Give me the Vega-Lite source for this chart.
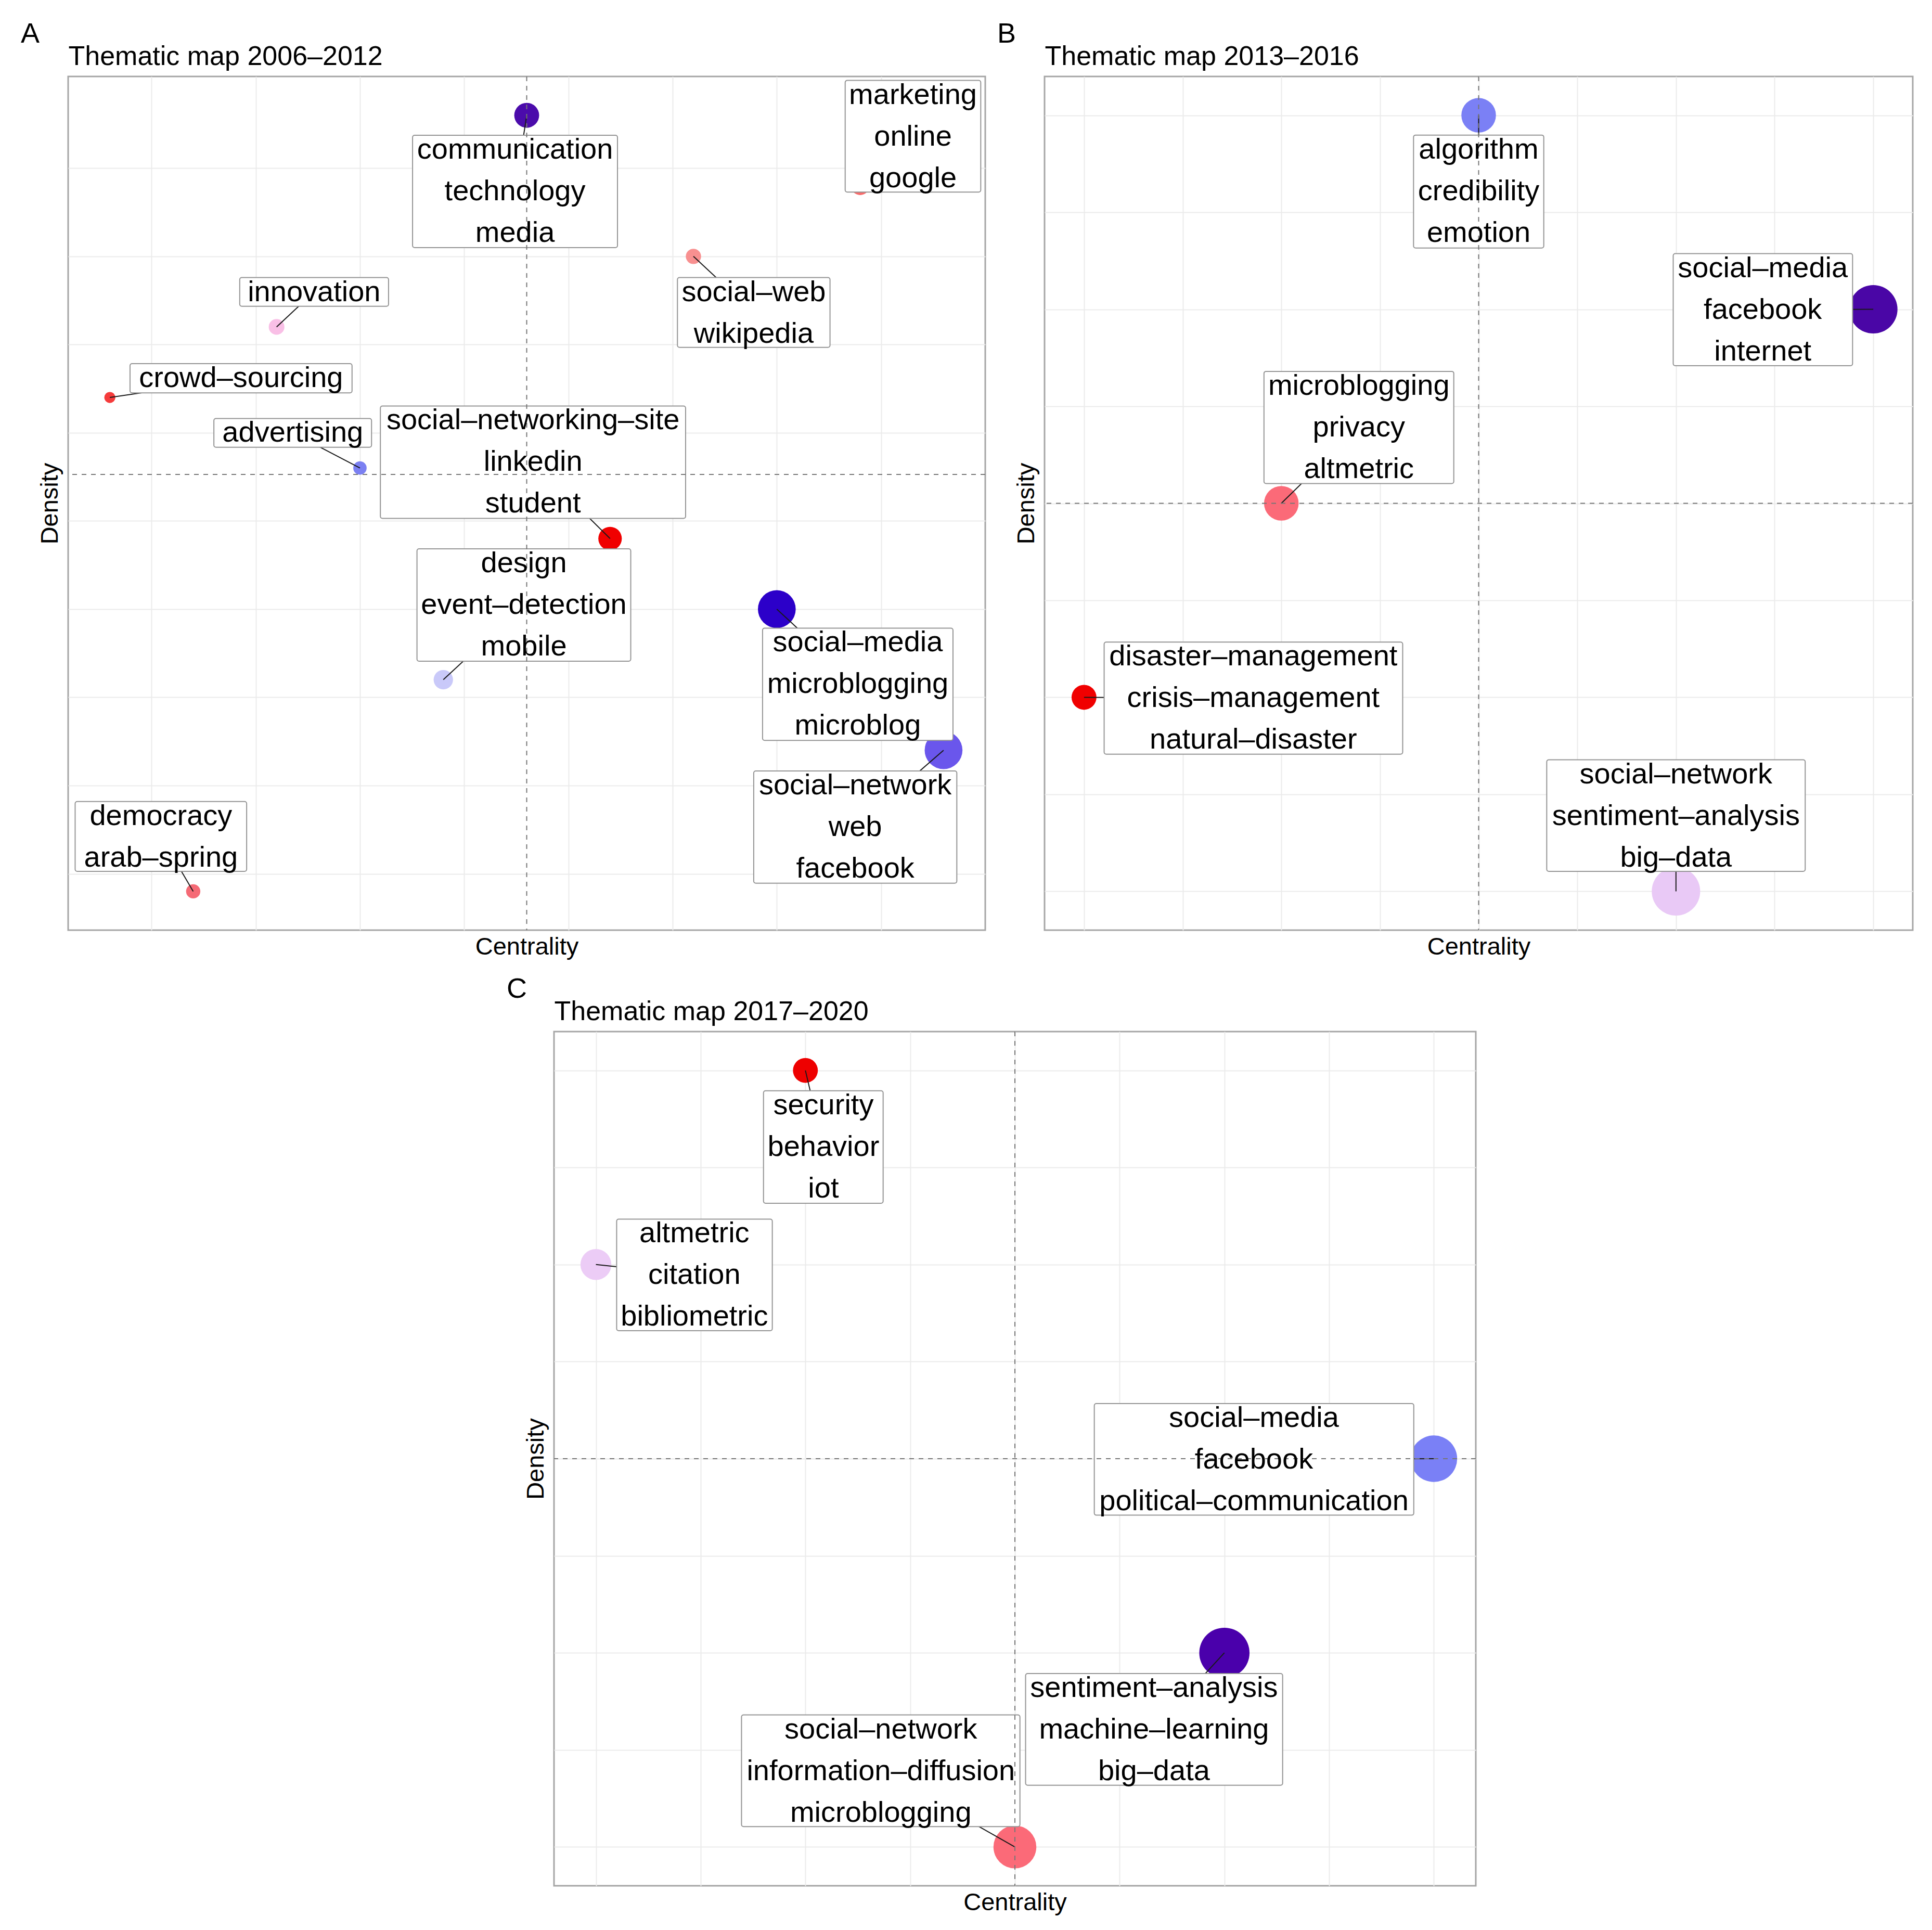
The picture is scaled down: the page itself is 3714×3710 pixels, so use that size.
{
  "$schema": "https://vega.github.io/schema/vega-lite/v6.json",
  "background": "white",
  "padding": {"left": 38, "top": 37, "right": 0, "bottom": 0},
  "config": {
    "font": "Liberation Sans",
    "view": {"stroke": "#a6a6a6", "strokeWidth": 3},
    "title": {"fontSize": 54, "fontWeight": "normal", "color": "black", "anchor": "start", "frame": "group", "dx": -91, "offset": -11, "baseline": "alphabetic", "font": "Liberation Sans"},
    "axis": {"labels": false, "ticks": false, "domain": false, "gridColor": "#ebebeb", "gridWidth": 2, "titleFontWeight": "normal", "titleColor": "black", "titleFont": "Liberation Sans"}
  },
  "spacing": 28,
  "resolve": {"scale": {"x": "independent", "y": "independent", "color": "independent", "size": "independent"}},
  "vconcat": [
    {
      "spacing": 18,
      "resolve": {"scale": {"x": "independent", "y": "independent", "color": "independent", "size": "independent"}},
      "hconcat": [
        {
          "width": 1763, "height": 1641,
          "title": {"text": "A"},
          "data": {"values": [
            {"id": "A1", "centrality": 6, "density": 12, "freq": 22.9, "label": "communication\ntechnology\nmedia", "lx": 5.86, "ly": 10.92, "bx1": 4.631, "bx2": 7.089, "by1": 10.125, "by2": 11.716},
            {"id": "A2", "centrality": 10, "density": 11, "freq": 12.6, "label": "marketing\nonline\ngoogle", "lx": 10.633, "ly": 11.70, "bx1": 9.82, "bx2": 11.446, "by1": 10.911, "by2": 12.494},
            {"id": "A3", "centrality": 8, "density": 10, "freq": 8.6, "label": "social–web\nwikipedia", "lx": 8.723, "ly": 9.205, "bx1": 7.808, "bx2": 9.638, "by1": 8.71, "by2": 9.7},
            {"id": "A4", "centrality": 3, "density": 9, "freq": 9.1, "label": "innovation", "lx": 3.45, "ly": 9.497, "bx1": 2.558, "bx2": 4.343, "by1": 9.293, "by2": 9.7},
            {"id": "A5", "centrality": 1, "density": 8, "freq": 4.5, "label": "crowd–sourcing", "lx": 2.574, "ly": 8.273, "bx1": 1.242, "bx2": 3.905, "by1": 8.065, "by2": 8.48},
            {"id": "A6", "centrality": 4, "density": 7, "freq": 6.6, "label": "advertising", "lx": 3.194, "ly": 7.499, "bx1": 2.248, "bx2": 4.139, "by1": 7.295, "by2": 7.702},
            {"id": "A7", "centrality": 7, "density": 6, "freq": 20.4, "label": "social–networking–site\nlinkedin\nstudent", "lx": 6.076, "ly": 7.083, "bx1": 4.245, "bx2": 7.906, "by1": 6.287, "by2": 7.879},
            {"id": "A8", "centrality": 9, "density": 5, "freq": 52.8, "label": "social–media\nmicroblogging\nmicroblog", "lx": 9.971, "ly": 3.936, "bx1": 8.829, "bx2": 11.113, "by1": 3.14, "by2": 4.731},
            {"id": "A9", "centrality": 5, "density": 4, "freq": 13.9, "label": "design\nevent–detection\nmobile", "lx": 5.966, "ly": 5.059, "bx1": 4.684, "bx2": 7.248, "by1": 4.263, "by2": 5.854},
            {"id": "A10", "centrality": 11, "density": 3, "freq": 52.8, "label": "social–network\nweb\nfacebook", "lx": 9.941, "ly": 1.911, "bx1": 8.723, "bx2": 11.159, "by1": 1.115, "by2": 2.706},
            {"id": "A11", "centrality": 2, "density": 1, "freq": 7.5, "label": "democracy\narab–spring", "lx": 1.613, "ly": 1.778, "bx1": 0.584, "bx2": 2.641, "by1": 1.283, "by2": 2.273}
          ]},
          "resolve": {"axis": {"x": "independent", "y": "independent"}},
          "layer": [
            {
              "mark": {"type": "circle", "opacity": 1},
              "encoding": {
                "x": {"field": "centrality", "type": "quantitative", "scale": {"domain": [0.5, 11.5], "nice": false, "zero": false}, "axis": {"orient": "bottom", "title": "Centrality", "grid": true, "values": [1.5, 2.75, 4, 5.25, 6.5, 7.75, 9, 10.25], "titleFontSize": 47, "titlePadding": 9}},
                "y": {"field": "density", "type": "quantitative", "scale": {"domain": [0.45, 12.55], "nice": false, "zero": false}, "axis": {"orient": "left", "title": "Density", "grid": true, "values": [1.25, 2.5, 3.75, 5, 6.25, 7.5, 8.75, 10, 11.25], "titleFontSize": 47, "titlePadding": 11}},
                "size": {"field": "freq", "type": "quantitative", "scale": {"domain": [0, 100], "range": [0, 10000]}, "legend": null},
                "color": {"field": "id", "type": "nominal", "scale": {"domain": ["A1", "A2", "A3", "A4", "A5", "A6", "A7", "A8", "A9", "A10", "A11"], "range": ["#4b0bab", "#f86b6b", "#f89090", "#f9bfe6", "#f53b3b", "#7b80f2", "#f00000", "#2c00c9", "#c9c9f9", "#6a56ec", "#f56a75"]}, "legend": null}
              }
            },
            {
              "mark": {"type": "rule", "color": "#1a1a1a", "strokeWidth": 2},
              "encoding": {
                "x": {"field": "centrality", "type": "quantitative", "scale": {"domain": [0.5, 11.5], "nice": false, "zero": false}, "axis": null},
                "y": {"field": "density", "type": "quantitative", "scale": {"domain": [0.45, 12.55], "nice": false, "zero": false}, "axis": null},
                "x2": {"field": "lx"},
                "y2": {"field": "ly"}
              }
            },
            {
              "mark": {"type": "rect", "fill": "white", "stroke": "#959595", "strokeWidth": 2, "cornerRadius": 4},
              "encoding": {
                "x": {"field": "bx1", "type": "quantitative", "scale": {"domain": [0.5, 11.5], "nice": false, "zero": false}, "axis": null},
                "x2": {"field": "bx2"},
                "y": {"field": "by1", "type": "quantitative", "scale": {"domain": [0.45, 12.55], "nice": false, "zero": false}, "axis": null},
                "y2": {"field": "by2"}
              }
            },
            {
              "data": {"values": [{"m": 6}]},
              "mark": {"type": "rule", "strokeDash": [9, 9], "color": "#777777", "strokeWidth": 2},
              "encoding": {"x": {"field": "m", "type": "quantitative", "scale": {"domain": [0.5, 11.5], "nice": false, "zero": false}, "axis": null}}
            },
            {
              "data": {"values": [{"m": 6.909}]},
              "mark": {"type": "rule", "strokeDash": [9, 9], "color": "#777777", "strokeWidth": 2},
              "encoding": {"y": {"field": "m", "type": "quantitative", "scale": {"domain": [0.45, 12.55], "nice": false, "zero": false}, "axis": null}}
            },
            {
              "mark": {"type": "text", "fontSize": 56, "lineBreak": "\n", "lineHeight": 80, "align": "center", "baseline": "top", "dy": 1, "color": "black", "font": "Liberation Sans"},
              "encoding": {
                "x": {"field": "lx", "type": "quantitative", "scale": {"domain": [0.5, 11.5], "nice": false, "zero": false}, "axis": {"orient": "top", "title": "Thematic map 2006–2012", "titleAnchor": "start", "grid": false, "titleFontSize": 52, "titlePadding": 12}},
                "y": {"field": "by2", "type": "quantitative", "scale": {"domain": [0.45, 12.55], "nice": false, "zero": false}, "axis": null},
                "text": {"field": "label", "type": "nominal"}
              }
            }
          ]
        },
        {
          "width": 1669, "height": 1641,
          "title": {"text": "B"},
          "data": {"values": [
            {"id": "B1", "centrality": 3, "density": 5, "freq": 44.2, "label": "algorithm\ncredibility\nemotion", "lx": 3.0, "ly": 4.607, "bx1": 2.67, "bx2": 3.33, "by1": 4.316, "by2": 4.898},
            {"id": "B2", "centrality": 5, "density": 4, "freq": 86.6, "label": "social–media\nfacebook\ninternet", "lx": 4.44, "ly": 3.998, "bx1": 3.986, "bx2": 4.895, "by1": 3.709, "by2": 4.287},
            {"id": "B3", "centrality": 2, "density": 3, "freq": 44.2, "label": "microblogging\nprivacy\naltmetric", "lx": 2.393, "ly": 3.391, "bx1": 1.912, "bx2": 2.874, "by1": 3.102, "by2": 3.68},
            {"id": "B4", "centrality": 1, "density": 2, "freq": 22.9, "label": "disaster–management\ncrisis–management\nnatural–disaster", "lx": 1.858, "ly": 1.996, "bx1": 1.102, "bx2": 2.615, "by1": 1.707, "by2": 2.285},
            {"id": "B5", "centrality": 4, "density": 1, "freq": 86.6, "label": "social–network\nsentiment–analysis\nbig–data", "lx": 4.0, "ly": 1.39, "bx1": 3.345, "bx2": 4.655, "by1": 1.103, "by2": 1.678}
          ]},
          "resolve": {"axis": {"x": "independent", "y": "independent"}},
          "layer": [
            {
              "mark": {"type": "circle", "opacity": 1},
              "encoding": {
                "x": {"field": "centrality", "type": "quantitative", "scale": {"domain": [0.8, 5.2], "nice": false, "zero": false}, "axis": {"orient": "bottom", "title": "Centrality", "grid": true, "values": [1, 1.5, 2, 2.5, 3, 3.5, 4, 4.5, 5], "titleFontSize": 47, "titlePadding": 9}},
                "y": {"field": "density", "type": "quantitative", "scale": {"domain": [0.8, 5.2], "nice": false, "zero": false}, "axis": {"orient": "left", "title": "Density", "grid": true, "values": [1, 1.5, 2, 2.5, 3, 3.5, 4, 4.5, 5], "titleFontSize": 47, "titlePadding": 11}},
                "size": {"field": "freq", "type": "quantitative", "scale": {"domain": [0, 100], "range": [0, 10000]}, "legend": null},
                "color": {"field": "id", "type": "nominal", "scale": {"domain": ["B1", "B2", "B3", "B4", "B5"], "range": ["#7b80f5", "#4a06a6", "#fb6a78", "#f00000", "#e9c9f6"]}, "legend": null}
              }
            },
            {
              "mark": {"type": "rule", "color": "#1a1a1a", "strokeWidth": 2},
              "encoding": {
                "x": {"field": "centrality", "type": "quantitative", "scale": {"domain": [0.8, 5.2], "nice": false, "zero": false}, "axis": null},
                "y": {"field": "density", "type": "quantitative", "scale": {"domain": [0.8, 5.2], "nice": false, "zero": false}, "axis": null},
                "x2": {"field": "lx"},
                "y2": {"field": "ly"}
              }
            },
            {
              "mark": {"type": "rect", "fill": "white", "stroke": "#959595", "strokeWidth": 2, "cornerRadius": 4},
              "encoding": {
                "x": {"field": "bx1", "type": "quantitative", "scale": {"domain": [0.8, 5.2], "nice": false, "zero": false}, "axis": null},
                "x2": {"field": "bx2"},
                "y": {"field": "by1", "type": "quantitative", "scale": {"domain": [0.8, 5.2], "nice": false, "zero": false}, "axis": null},
                "y2": {"field": "by2"}
              }
            },
            {
              "data": {"values": [{"m": 3}]},
              "mark": {"type": "rule", "strokeDash": [9, 9], "color": "#777777", "strokeWidth": 2},
              "encoding": {"x": {"field": "m", "type": "quantitative", "scale": {"domain": [0.8, 5.2], "nice": false, "zero": false}, "axis": null}}
            },
            {
              "data": {"values": [{"m": 3}]},
              "mark": {"type": "rule", "strokeDash": [9, 9], "color": "#777777", "strokeWidth": 2},
              "encoding": {"y": {"field": "m", "type": "quantitative", "scale": {"domain": [0.8, 5.2], "nice": false, "zero": false}, "axis": null}}
            },
            {
              "mark": {"type": "text", "fontSize": 56, "lineBreak": "\n", "lineHeight": 80, "align": "center", "baseline": "top", "dy": 1, "color": "black", "font": "Liberation Sans"},
              "encoding": {
                "x": {"field": "lx", "type": "quantitative", "scale": {"domain": [0.8, 5.2], "nice": false, "zero": false}, "axis": {"orient": "top", "title": "Thematic map 2013–2016", "titleAnchor": "start", "grid": false, "titleFontSize": 52, "titlePadding": 12}},
                "y": {"field": "by2", "type": "quantitative", "scale": {"domain": [0.8, 5.2], "nice": false, "zero": false}, "axis": null},
                "text": {"field": "label", "type": "nominal"}
              }
            }
          ]
        }
      ]
    },
    {
      "spacing": 0,
      "resolve": {"scale": {"x": "independent", "y": "independent", "color": "independent", "size": "independent"}},
      "hconcat": [
        {
          "width": 841, "height": 10,
          "data": {"values": [{}]},
          "mark": {"type": "point", "opacity": 0},
          "encoding": {},
          "view": {"stroke": null}
        },
        {
          "width": 1772, "height": 1642,
          "title": {"text": "C"},
          "data": {"values": [
            {"id": "C1", "centrality": 2, "density": 5, "freq": 22.9, "label": "security\nbehavior\niot", "lx": 2.086, "ly": 4.605, "bx1": 1.8, "bx2": 2.371, "by1": 4.316, "by2": 4.895},
            {"id": "C2", "centrality": 1, "density": 4, "freq": 35.3, "label": "altmetric\ncitation\nbibliometric", "lx": 1.47, "ly": 3.946, "bx1": 1.099, "bx2": 1.842, "by1": 3.659, "by2": 4.234},
            {"id": "C3", "centrality": 5, "density": 3, "freq": 80.1, "label": "social–media\nfacebook\npolitical–communication", "lx": 4.141, "ly": 2.996, "bx1": 3.379, "bx2": 4.904, "by1": 2.709, "by2": 3.284},
            {"id": "C4", "centrality": 4, "density": 2, "freq": 93.3, "label": "sentiment–analysis\nmachine–learning\nbig–data", "lx": 3.664, "ly": 1.605, "bx1": 3.051, "bx2": 4.278, "by1": 1.318, "by2": 1.893},
            {"id": "C5", "centrality": 3, "density": 1, "freq": 67.9, "label": "social–network\ninformation–diffusion\nmicroblogging", "lx": 2.36, "ly": 1.392, "bx1": 1.695, "bx2": 3.024, "by1": 1.105, "by2": 1.68}
          ]},
          "resolve": {"axis": {"x": "independent", "y": "independent"}},
          "layer": [
            {
              "mark": {"type": "circle", "opacity": 1},
              "encoding": {
                "x": {"field": "centrality", "type": "quantitative", "scale": {"domain": [0.8, 5.2], "nice": false, "zero": false}, "axis": {"orient": "bottom", "title": "Centrality", "grid": true, "values": [1, 1.5, 2, 2.5, 3, 3.5, 4, 4.5, 5], "titleFontSize": 47, "titlePadding": 9}},
                "y": {"field": "density", "type": "quantitative", "scale": {"domain": [0.8, 5.2], "nice": false, "zero": false}, "axis": {"orient": "left", "title": "Density", "grid": true, "values": [1, 1.5, 2, 2.5, 3, 3.5, 4, 4.5, 5], "titleFontSize": 47, "titlePadding": 11}},
                "size": {"field": "freq", "type": "quantitative", "scale": {"domain": [0, 100], "range": [0, 10000]}, "legend": null},
                "color": {"field": "id", "type": "nominal", "scale": {"domain": ["C1", "C2", "C3", "C4", "C5"], "range": ["#ee0000", "#ecccf6", "#7a80f6", "#4a00ab", "#fb6a78"]}, "legend": null}
              }
            },
            {
              "mark": {"type": "rule", "color": "#1a1a1a", "strokeWidth": 2},
              "encoding": {
                "x": {"field": "centrality", "type": "quantitative", "scale": {"domain": [0.8, 5.2], "nice": false, "zero": false}, "axis": null},
                "y": {"field": "density", "type": "quantitative", "scale": {"domain": [0.8, 5.2], "nice": false, "zero": false}, "axis": null},
                "x2": {"field": "lx"},
                "y2": {"field": "ly"}
              }
            },
            {
              "mark": {"type": "rect", "fill": "white", "stroke": "#959595", "strokeWidth": 2, "cornerRadius": 4},
              "encoding": {
                "x": {"field": "bx1", "type": "quantitative", "scale": {"domain": [0.8, 5.2], "nice": false, "zero": false}, "axis": null},
                "x2": {"field": "bx2"},
                "y": {"field": "by1", "type": "quantitative", "scale": {"domain": [0.8, 5.2], "nice": false, "zero": false}, "axis": null},
                "y2": {"field": "by2"}
              }
            },
            {
              "data": {"values": [{"m": 3}]},
              "mark": {"type": "rule", "strokeDash": [9, 9], "color": "#777777", "strokeWidth": 2},
              "encoding": {"x": {"field": "m", "type": "quantitative", "scale": {"domain": [0.8, 5.2], "nice": false, "zero": false}, "axis": null}}
            },
            {
              "data": {"values": [{"m": 3}]},
              "mark": {"type": "rule", "strokeDash": [9, 9], "color": "#777777", "strokeWidth": 2},
              "encoding": {"y": {"field": "m", "type": "quantitative", "scale": {"domain": [0.8, 5.2], "nice": false, "zero": false}, "axis": null}}
            },
            {
              "mark": {"type": "text", "fontSize": 56, "lineBreak": "\n", "lineHeight": 80, "align": "center", "baseline": "top", "dy": 1, "color": "black", "font": "Liberation Sans"},
              "encoding": {
                "x": {"field": "lx", "type": "quantitative", "scale": {"domain": [0.8, 5.2], "nice": false, "zero": false}, "axis": {"orient": "top", "title": "Thematic map 2017–2020", "titleAnchor": "start", "grid": false, "titleFontSize": 52, "titlePadding": 12}},
                "y": {"field": "by2", "type": "quantitative", "scale": {"domain": [0.8, 5.2], "nice": false, "zero": false}, "axis": null},
                "text": {"field": "label", "type": "nominal"}
              }
            }
          ]
        }
      ]
    }
  ]
}
